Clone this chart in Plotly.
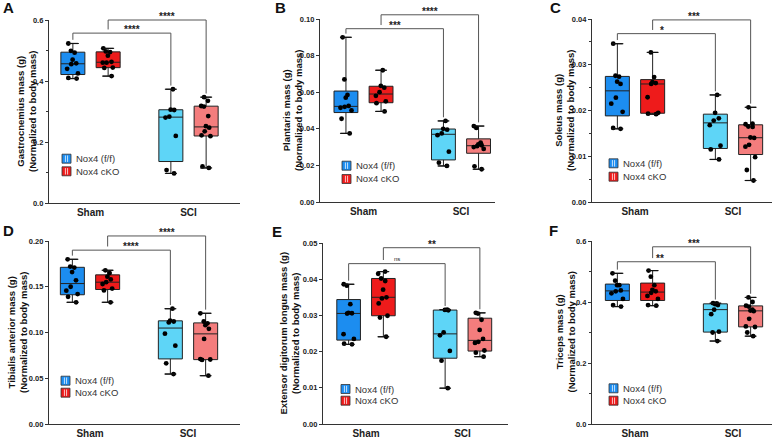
import numpy as np
import plotly.graph_objects as go

W, H = 776, 439
FONT = "Arial, Liberation Sans, sans-serif"

groups = ["Sham", "SCI"]
genotypes = ["Nox4 (f/f)", "Nox4 cKO"]

# A - gastrocnemius
gas_sham_ff = [0.523, 0.499, 0.493, 0.470, 0.458, 0.455, 0.440, 0.425, 0.410, 0.408]
gas_sham_cko = [0.507, 0.497, 0.495, 0.483, 0.463, 0.460, 0.460, 0.444, 0.443, 0.416]
gas_sci_ff = [0.373, 0.306, 0.305, 0.283, 0.280, 0.220, 0.108, 0.097]
gas_sci_cko = [0.347, 0.335, 0.318, 0.316, 0.285, 0.252, 0.247, 0.235, 0.222, 0.219, 0.120, 0.115]

# B - plantaris
pla_sham_ff = [0.090, 0.067, 0.0585, 0.057, 0.0525, 0.052, 0.0515, 0.050, 0.0455, 0.0375]
pla_sham_cko = [0.072, 0.0635, 0.0625, 0.060, 0.058, 0.055, 0.054, 0.0495]
pla_sci_ff = [0.0443, 0.040, 0.0395, 0.0375, 0.0365, 0.0275, 0.0215, 0.0197]
pla_sci_cko = [0.0415, 0.0405, 0.0325, 0.0315, 0.031, 0.0305, 0.030, 0.029, 0.0195, 0.0179]

# C - soleus
sol_sham_ff = [0.0346, 0.0276, 0.0274, 0.0263, 0.0258, 0.0228, 0.0215, 0.0197, 0.0162, 0.0160]
sol_sham_cko = [0.0327, 0.0273, 0.0262, 0.0260, 0.0258, 0.0229, 0.0195, 0.0193, 0.0192]
sol_sci_ff = [0.0234, 0.0195, 0.0183, 0.0178, 0.0168, 0.0123, 0.0115, 0.0093]
sol_sci_cko = [0.0207, 0.0171, 0.0170, 0.0165, 0.0164, 0.0141, 0.0140, 0.0125, 0.0121, 0.0098, 0.0070, 0.0047]

# D - tibialis anterior
tib_sham_ff = [0.180, 0.172, 0.171, 0.166, 0.157, 0.150, 0.1457, 0.142, 0.139, 0.133]
tib_sham_cko = [0.168, 0.165, 0.161, 0.158, 0.155, 0.153, 0.148, 0.146, 0.133]
tib_sci_ff = [0.126, 0.113, 0.112, 0.111, 0.0987, 0.0856, 0.0663, 0.0546]
tib_sci_cko = [0.121, 0.112, 0.110, 0.108, 0.104, 0.093, 0.071, 0.0705, 0.070, 0.0528]

# E - extensor digitorum longus
edl_sham_ff = [0.0386, 0.0382, 0.0331, 0.0307, 0.0306, 0.0305, 0.0248, 0.0235, 0.0222, 0.0220]
edl_sham_cko = [0.0421, 0.0415, 0.0402, 0.0395, 0.0371, 0.0350, 0.0347, 0.0333, 0.0299, 0.0294, 0.0241]
edl_sci_ff = [0.0316, 0.0315, 0.0314, 0.0253, 0.0245, 0.0202, 0.0175, 0.0099]
edl_sci_cko = [0.0307, 0.0305, 0.0288, 0.0260, 0.0235, 0.0227, 0.0224, 0.0203, 0.0197, 0.0186]

# F - triceps
tri_sham_ff = [0.494, 0.470, 0.455, 0.455, 0.438, 0.435, 0.4285, 0.410, 0.390, 0.385]
tri_sham_cko = [0.503, 0.483, 0.455, 0.440, 0.435, 0.430, 0.420, 0.410, 0.390, 0.388]
tri_sci_ff = [0.396, 0.395, 0.393, 0.390, 0.375, 0.360, 0.3026, 0.300, 0.272]
tri_sci_cko = [0.415, 0.400, 0.388, 0.385, 0.375, 0.372, 0.370, 0.345, 0.320, 0.318, 0.300, 0.288]

# fill colours: sham f/f, sham cKO, SCI f/f, SCI cKO
box_colors = ["#1c8df0", "#ee1b1b", "#5ed5f7", "#f47d7d"]
legend_colors = ["#1c8df0", "#ee1b1b"]

# layout of each panel in pixels: axis box (left, top, right, bottom), group centres,
# x of the y-title block, legend (left, row1, row2), panel letter
panels = [
    dict(letter="A", title="Gastrocnemius mass (g)",
         data=[gas_sham_ff, gas_sham_cko, gas_sci_ff, gas_sci_cko],
         yr=[0, 0.6], dtick=0.2, fmt=".1f", minor=True,
         box=(49, 20, 240, 203), centers=(90.5, 188.5), tx=26.5,
         levels=(0.557, 0.600), stars=("****", "****"),
         leg=(62, 158.7, 171.3), lett=(1, 8)),
    dict(letter="B", title="Plantaris mass (g)",
         data=[pla_sham_ff, pla_sham_cko, pla_sci_ff, pla_sci_cko],
         yr=[0, 0.10], dtick=0.02, fmt=".2f", minor=False,
         box=(320, 19, 495, 202), centers=(363.5, 461), tx=292.5,
         levels=(0.0947, 0.1023), stars=("***", "****"),
         leg=(342, 165.7, 179), lett=(273, 8)),
    dict(letter="C", title="Soleus mass (g)",
         data=[sol_sham_ff, sol_sham_cko, sol_sci_ff, sol_sci_cko],
         yr=[0, 0.04], dtick=0.01, fmt=".2f", minor=True,
         box=(592, 19, 772, 202), centers=(635, 733), tx=564.5,
         levels=(0.0368, 0.0398), stars=("*", "***"),
         leg=(609, 163.3, 176.7), lett=(548, 8)),
    dict(letter="D", title="Tibialis anterior mass (g)",
         data=[tib_sham_ff, tib_sham_cko, tib_sci_ff, tib_sci_cko],
         yr=[0, 0.20], dtick=0.05, fmt=".2f", minor=False,
         box=(49, 241, 240, 424), centers=(90, 188), tx=17.5,
         levels=(0.190, 0.2055), stars=("****", "****"),
         leg=(61, 380.7, 392.7), lett=(1, 230)),
    dict(letter="E", title="Extensor digitorum longus mass (g)",
         data=[edl_sham_ff, edl_sham_cko, edl_sci_ff, edl_sci_cko],
         yr=[0, 0.05], dtick=0.01, fmt=".2f", minor=False,
         box=(323, 243, 508, 424), centers=(366, 462.5), tx=289,
         levels=(0.0443, 0.0487), stars=("ns", "**"),
         leg=(341, 389, 400.7), lett=(270, 231)),
    dict(letter="F", title="Triceps mass (g)",
         data=[tri_sham_ff, tri_sham_cko, tri_sci_ff, tri_sci_cko],
         yr=[0, 0.6], dtick=0.2, fmt=".1f", minor=True,
         box=(592, 241, 772, 424), centers=(635, 733), tx=565,
         levels=(0.532, 0.581), stars=("**", "***"),
         leg=(609, 388.3, 400.7), lett=(547, 230)),
]

OFF = 0.18     # box offset from group centre
BW = 0.245     # box width
CAP = 0.055    # half width of whisker caps
AX = "#333333"


def px(x):
    return x / W


def py(y):
    return 1 - y / H


fig = go.Figure()
shapes = []
annotations = []

for k, p in enumerate(panels, start=1):
    sfx = "" if k == 1 else str(k)
    xa, ya = "x" + sfx, "y" + sfx
    L, T, R, B = p["box"]
    c1, c2 = p["centers"]
    s = c2 - c1
    xr = [1 - (c1 - L) / s, 2 + (R - c2) / s]
    yr = p["yr"]
    positions = [1 - OFF, 1 + OFF, 2 - OFF, 2 + OFF]

    for vals, pos, col in zip(p["data"], positions, box_colors):
        v = np.array(vals)
        q1, med, q3 = np.quantile(v, [0.25, 0.5, 0.75], method="weibull")
        fig.add_trace(go.Box(
            x=[pos], q1=[q1], median=[med], q3=[q3],
            lowerfence=[v.min()], upperfence=[v.max()],
            width=BW, fillcolor=col, line=dict(color="#222222", width=1),
            boxpoints=False, showlegend=False, hoverinfo="skip",
            xaxis=xa, yaxis=ya))
        # whisker caps
        fig.add_trace(go.Scatter(
            x=[pos - CAP, pos + CAP, None, pos - CAP, pos + CAP],
            y=[v.min(), v.min(), None, v.max(), v.max()],
            mode="lines", line=dict(color="#111111", width=1.2),
            showlegend=False, hoverinfo="skip", xaxis=xa, yaxis=ya))
        # individual animals
        fig.add_trace(go.Box(
            x=[pos] * len(v), y=v, width=BW,
            boxpoints="all", jitter=0.6, pointpos=0,
            fillcolor="rgba(0,0,0,0)", line=dict(color="rgba(0,0,0,0)"),
            marker=dict(color="black", size=4.8),
            showlegend=False, hoverinfo="skip", xaxis=xa, yaxis=ya))

    dom_x = [px(L), px(R)]
    dom_y = [py(B), py(T)]
    fig.update_layout({
        "xaxis" + sfx: dict(
            domain=dom_x, range=xr, tickvals=[1, 2], ticktext=groups,
            ticks="", showline=True, linecolor=AX, linewidth=1.3,
            showgrid=False, zeroline=False, anchor=ya, automargin=False,
            tickfont=dict(family=FONT, size=10, color="#222", weight="bold")),
        "yaxis" + sfx: dict(
            domain=dom_y, range=yr, dtick=p["dtick"], tickformat=p["fmt"],
            ticks="outside", ticklen=3, tickwidth=1, tickcolor=AX,
            showline=True, linecolor=AX, linewidth=1.3,
            showgrid=False, zeroline=False, anchor=xa, automargin=False,
            minor=dict(ticks="outside", ticklen=2, dtick=p["dtick"] / 2,
                       tickcolor=AX, showgrid=False) if p["minor"] else None,
            tickfont=dict(family=FONT, size=7.5, color="#222", weight="bold")),
    })

    # y-axis title as a rotated two-line label
    annotations.append(dict(
        x=px(p["tx"]), y=py((T + B) / 2), xref="paper", yref="paper",
        text=p["title"] + "<br>(Normalized to body mass)", showarrow=False,
        textangle=-90, xanchor="center", yanchor="middle",
        font=dict(family=FONT, size=9.5, color="#111", weight="bold")))

    # data value -> paper fraction for this panel (brackets sit above the axes)
    def fx(v):
        return px(L) + (v - xr[0]) / (xr[1] - xr[0]) * (px(R) - px(L))

    def fy(v):
        return py(B) + (v - yr[0]) / (yr[1] - yr[0]) * (py(T) - py(B))

    gap = 0.02 * (yr[1] - yr[0])
    d = p["data"]
    h1, h2 = p["levels"]
    brackets = [
        (positions[0], max(d[0]) + gap, positions[2], max(d[2]) + gap, h1, p["stars"][0]),
        (positions[1], h1 + gap, positions[3], max(d[3]) + gap, h2, p["stars"][1]),
    ]
    for xl, yl, xr_, yr_, h, lab in brackets:
        segs = [(xl, yl, xl, h), (xl, h, xr_, h), (xr_, h, xr_, yr_)]
        for a, b, c, e in segs:
            shapes.append(dict(type="line", xref="paper", yref="paper",
                               x0=fx(a), y0=fy(b), x1=fx(c), y1=fy(e),
                               line=dict(color="#555555", width=1)))
        small = lab == "ns"
        annotations.append(dict(
            x=fx((xl + xr_) / 2), y=fy(h), xref="paper", yref="paper",
            text=lab, showarrow=False,
            yanchor="bottom", yshift=-4 if not small else 0,
            font=dict(family=FONT, size=6 if small else 10, color="#222",
                      weight="normal" if small else "bold")))

    # panel letter
    lx, ly = p["lett"]
    annotations.append(dict(x=px(lx), y=py(ly), xref="paper", yref="paper",
                            text=p["letter"], showarrow=False,
                            xanchor="left", yanchor="middle",
                            font=dict(family=FONT, size=15, color="#111", weight="bold")))

    # legend
    gx, r1, r2 = p["leg"]
    for name, col, ry in zip(genotypes, legend_colors, (r1, r2)):
        shapes.append(dict(type="rect", xref="paper", yref="paper",
                           x0=px(gx), x1=px(gx + 9), y0=py(ry + 4.5), y1=py(ry - 4.5),
                           fillcolor=col, line=dict(color="#333", width=0.8)))
        for f in (0.38, 0.62):
            shapes.append(dict(type="line", xref="paper", yref="paper",
                               x0=px(gx + 9 * f), x1=px(gx + 9 * f),
                               y0=py(ry + 3.2), y1=py(ry - 3.2),
                               line=dict(color="rgba(255,255,255,0.75)", width=1)))
        annotations.append(dict(x=px(gx + 12), y=py(ry), xref="paper", yref="paper",
                                text=name, showarrow=False,
                                xanchor="left", yanchor="middle",
                                font=dict(family=FONT, size=9.5, color="#333")))

fig.update_layout(
    width=W, height=H,
    margin=dict(l=0, r=0, t=0, b=0),
    plot_bgcolor="white", paper_bgcolor="white",
    showlegend=False,
    shapes=shapes, annotations=annotations,
    font=dict(family=FONT),
)

# the page's default body margin would shift the figure, so drop it
fig.write_html("out.html", config={"displayModeBar": False},
               post_script="document.body.style.margin = '0px';")
